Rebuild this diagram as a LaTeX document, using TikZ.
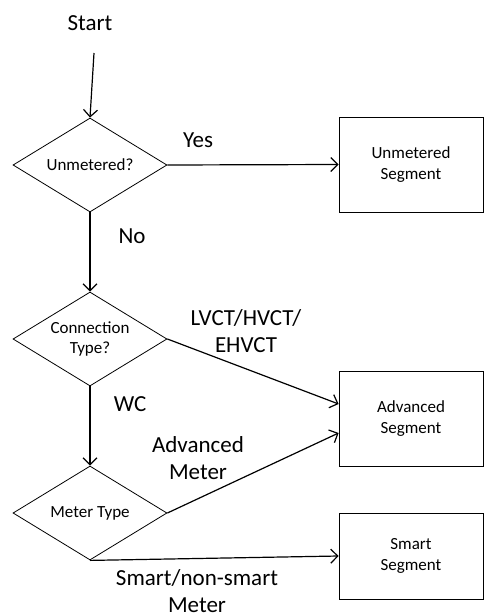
\documentclass[tikz,border=0pt]{standalone}
\usepackage{fontspec}
\setmainfont{Carlito}
\usetikzlibrary{shapes.geometric,arrows.meta}
\begin{document}
\begin{tikzpicture}[x=1pt,y=-1pt,
  decision/.style={draw,shape=diamond,aspect=1.64,inner sep=0pt,
    minimum width=154pt,minimum height=94pt,line width=0.8pt,
    font=\fontsize{17}{20.4}\selectfont,align=center},
  segment/.style={draw,minimum width=144pt,line width=0.8pt,
    font=\fontsize{17}{20.4}\selectfont,align=center},
  lbl/.style={font=\fontsize{23}{27}\selectfont,align=center},
  flow/.style={line width=1.2pt,-{Straight Barb[length=7pt,width=14pt]}}]
\useasboundingbox (0,0) rectangle (485,616);

% decisions
\node[lbl] (start) at (90,23) {Start};
\coordinate (s0) at (94,53);
\node[decision] (d1) at (90,165) {Unmetered?};
\node[decision] (d2) at (90,339) {Connection\\Type?};
\node[decision] (d3) at (90,513) {Meter Type};

% resulting segments
\node[segment,minimum height=95pt] (b1) at (411,164.5) {Unmetered\\Segment};
\node[segment,minimum height=95pt] (b2) at (411,418.5) {Advanced\\Segment};
\node[segment,minimum height=86pt] (b3) at (411,556) {Smart\\Segment};

% flow
\draw[flow] (s0) -- (d1.north);
\draw[flow] (d1.east) -- (b1.west);
\draw[flow] (d1.south) -- (d2.north);
\draw[flow] (d2.east) -- ([yshift=14.5pt]b2.west);
\draw[flow] (d2.south) -- (d3.north);
\draw[flow] (d3.east) -- ([yshift=-14.5pt]b2.west);
\draw[flow] (d3.south) -- (b3.west);

% branch labels
\node[lbl] (yes) at (198,140) {Yes};
\node[lbl] (no) at (132,236) {No};
\node[lbl] (lv) at (246,331) {LVCT/HVCT/\\EHVCT};
\node[lbl] (wc) at (130,404) {WC};
\node[lbl] (am) at (198,458) {Advanced\\Meter};
\node[lbl] (sm) at (197,591) {Smart/non-smart\\Meter};
\end{tikzpicture}
\end{document}
